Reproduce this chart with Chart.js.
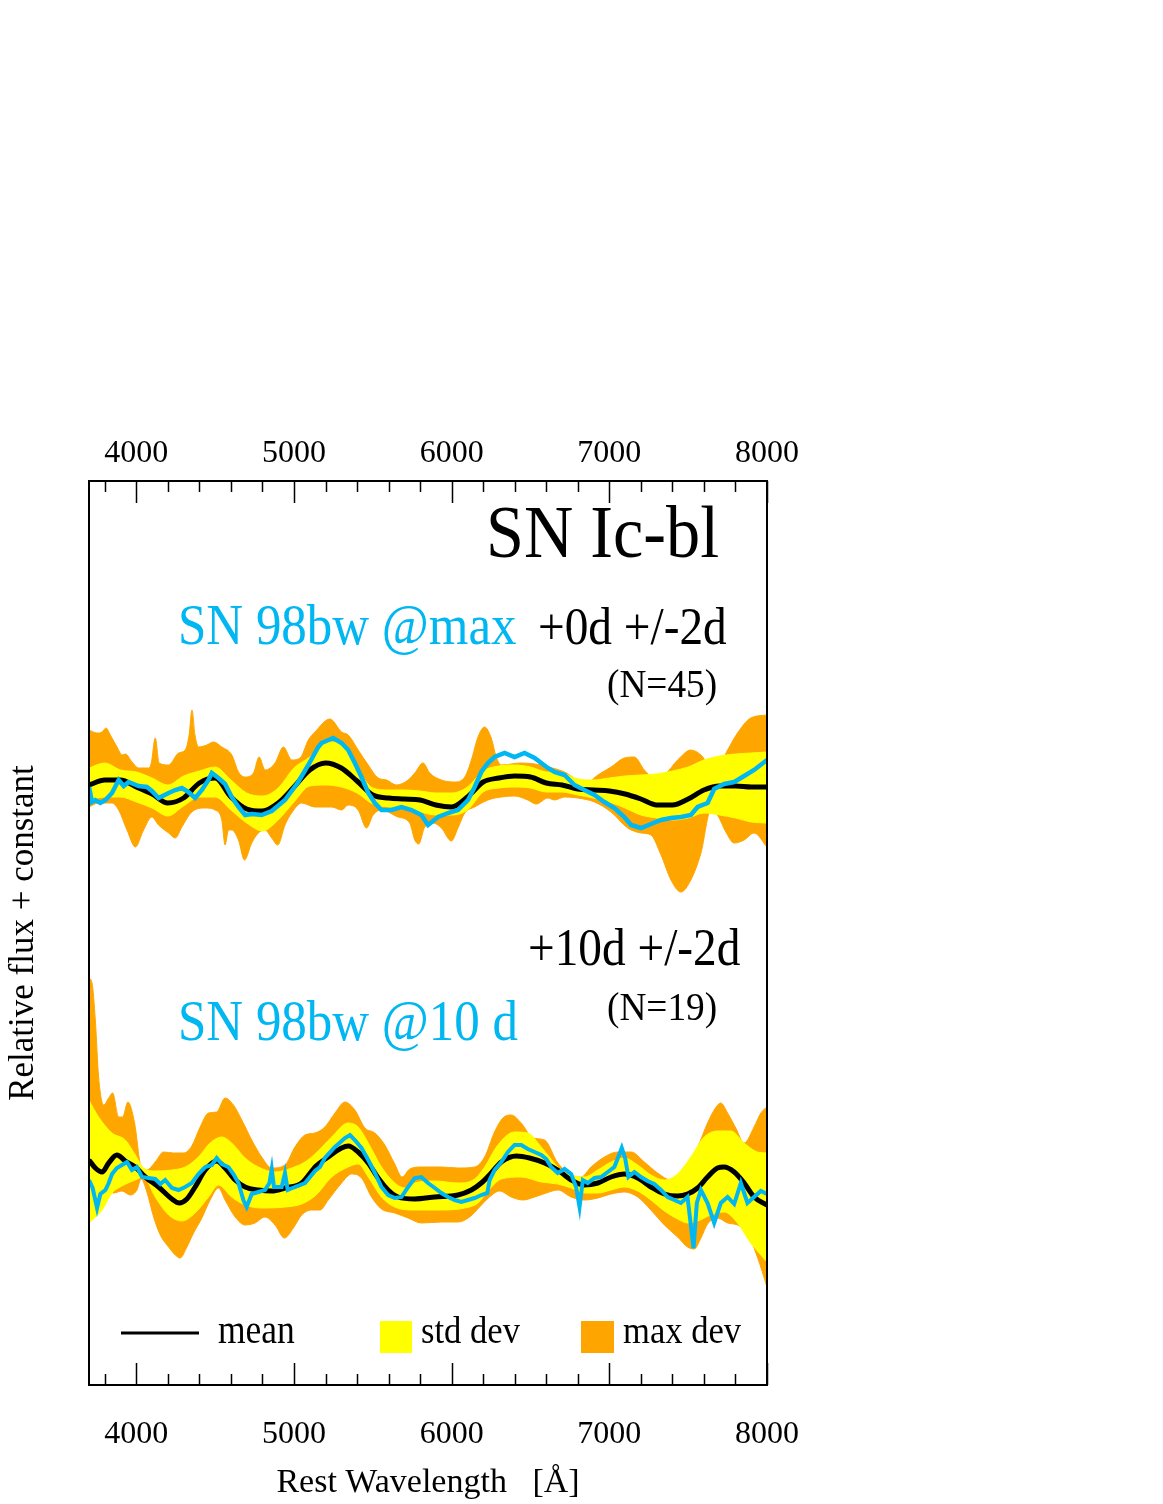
<!DOCTYPE html>
<html>
<head>
<meta charset="utf-8">
<title>SN Ic-bl template</title>
<script src="https://cdn.jsdelivr.net/npm/chart.js@4.4.0/dist/chart.umd.min.js"></script>
<style>
  html, body { margin: 0; padding: 0; background: #fff; }
  canvas { display: block; }
</style>
</head>
<body>
<canvas id="specChart" width="1163" height="1504"></canvas>
<script>
// wavelength range and axis ticks (Angstrom)
const waveMin = 3700;
const waveMax = 8000;
const tickLabels = [4000, 5000, 6000, 7000, 8000];
const minorTicks = [3800, 4200, 4400, 4600, 4800, 5200, 5400, 5600, 5800, 6200, 6400, 6600, 6800, 7200, 7400, 7600, 7800];

// ---- +0d epoch: [wavelength, relative flux + constant] ----
const topMean = [[3700,6.00],[3800,6.05],[3900,6.05],[4000,5.98],[4100,5.91],[4200,5.82],[4300,5.87],[4400,6.02],[4500,6.07],[4600,5.88],[4700,5.76],[4800,5.74],[4900,5.82],[5000,5.98],[5100,6.15],[5200,6.22],[5300,6.17],[5400,6.04],[5500,5.90],[5600,5.87],[5700,5.86],[5800,5.85],[5900,5.80],[6000,5.78],[6100,5.88],[6200,6.03],[6300,6.07],[6400,6.09],[6500,6.08],[6600,6.02],[6700,6.00],[6800,5.96],[6900,5.95],[7000,5.94],[7100,5.91],[7200,5.86],[7300,5.80],[7400,5.80],[7500,5.86],[7600,5.95],[7700,5.99],[7800,5.99],[7900,5.98],[8000,5.98]];

const topStdHi = [[3700,6.17],[3800,6.22],[3900,6.15],[4000,6.13],[4100,6.07],[4200,6.00],[4300,6.09],[4400,6.14],[4500,6.18],[4600,6.05],[4700,5.92],[4800,5.89],[4900,5.97],[5000,6.17],[5100,6.28],[5200,6.43],[5300,6.42],[5400,6.17],[5500,5.97],[5600,5.95],[5700,5.95],[5800,5.94],[5900,5.92],[6000,5.92],[6100,5.98],[6200,6.14],[6300,6.19],[6400,6.20],[6500,6.18],[6600,6.13],[6700,6.12],[6800,6.06],[6900,6.05],[7000,6.07],[7100,6.09],[7200,6.10],[7300,6.11],[7400,6.14],[7500,6.18],[7600,6.25],[7700,6.29],[7800,6.31],[7900,6.32],[8000,6.33]];

const topStdLo = [[3700,5.85],[3800,5.88],[3900,5.88],[4000,5.83],[4100,5.77],[4200,5.69],[4300,5.79],[4400,5.88],[4500,5.88],[4600,5.75],[4700,5.62],[4800,5.54],[4900,5.65],[5000,5.83],[5100,5.99],[5200,6.00],[5300,5.98],[5400,5.92],[5500,5.81],[5600,5.78],[5700,5.76],[5800,5.73],[5900,5.70],[6000,5.70],[6100,5.75],[6200,5.93],[6300,5.97],[6400,5.98],[6500,5.97],[6600,5.93],[6700,5.93],[6800,5.90],[6900,5.87],[7000,5.83],[7100,5.77],[7200,5.70],[7300,5.67],[7400,5.65],[7500,5.67],[7600,5.72],[7700,5.70],[7800,5.67],[7900,5.63],[8000,5.62]];

const topMaxHi = [[3700,6.55],[3750,6.52],[3783,6.53],[3808,6.57],[3835,6.50],[3878,6.38],[3910,6.30],[3931,6.31],[3973,6.23],[4015,6.17],[4078,6.17],[4095,6.22],[4120,6.47],[4145,6.22],[4205,6.20],[4268,6.32],[4310,6.35],[4335,6.50],[4353,6.75],[4372,6.50],[4395,6.38],[4447,6.40],[4490,6.43],[4542,6.38],[4606,6.30],[4648,6.13],[4690,6.08],[4743,6.12],[4779,6.28],[4817,6.15],[4880,6.22],[4933,6.38],[4986,6.25],[5039,6.27],[5091,6.45],[5133,6.53],[5228,6.66],[5302,6.53],[5344,6.50],[5407,6.35],[5471,6.20],[5534,6.07],[5587,6.05],[5650,6.00],[5724,6.05],[5766,6.12],[5819,6.22],[5861,6.12],[5935,6.05],[6019,6.03],[6083,6.08],[6125,6.25],[6167,6.48],[6209,6.58],[6251,6.47],[6283,6.28],[6315,6.20],[6441,6.22],[6568,6.20],[6640,6.17],[6716,6.13],[6800,6.05],[6863,6.03],[6927,6.10],[7011,6.18],[7095,6.27],[7159,6.28],[7222,6.15],[7285,6.07],[7349,6.10],[7433,6.25],[7517,6.35],[7581,6.30],[7644,6.18],[7686,6.17],[7750,6.35],[7813,6.52],[7897,6.67],[8000,6.70]];

const topMaxLo = [[3700,5.78],[3761,5.82],[3846,5.82],[3888,5.75],[3941,5.55],[3994,5.38],[4046,5.55],[4099,5.68],[4141,5.60],[4205,5.52],[4247,5.47],[4289,5.58],[4352,5.73],[4437,5.77],[4500,5.75],[4542,5.65],[4563,5.40],[4585,5.55],[4605,5.55],[4648,5.45],[4686,5.25],[4732,5.42],[4774,5.52],[4816,5.55],[4859,5.47],[4897,5.40],[4943,5.60],[4985,5.72],[5049,5.82],[5133,5.78],[5239,5.78],[5302,5.75],[5344,5.80],[5407,5.75],[5460,5.57],[5502,5.70],[5555,5.75],[5660,5.68],[5734,5.62],[5766,5.45],[5791,5.41],[5829,5.58],[5882,5.62],[5935,5.57],[5998,5.44],[6040,5.57],[6083,5.72],[6146,5.78],[6230,5.85],[6315,5.88],[6399,5.89],[6483,5.85],[6536,5.81],[6610,5.87],[6652,5.85],[6716,5.88],[6800,5.87],[6906,5.83],[7011,5.73],[7117,5.57],[7201,5.52],[7264,5.50],[7328,5.30],[7391,5.05],[7454,4.93],[7517,5.05],[7581,5.32],[7644,5.75],[7686,5.70],[7739,5.53],[7792,5.42],[7855,5.45],[7918,5.52],[8000,5.38]];

const topSN98bw = [[3700,5.98],[3719,5.83],[3740,5.85],[3772,5.82],[3804,5.85],[3846,5.92],[3888,6.05],[3920,5.99],[3951,6.03],[4015,5.99],[4067,5.98],[4099,5.94],[4141,5.87],[4205,5.92],[4247,5.95],[4289,5.97],[4331,5.93],[4373,5.87],[4416,5.95],[4458,6.05],[4479,6.12],[4521,6.07],[4563,6.01],[4605,5.88],[4648,5.78],[4690,5.70],[4732,5.71],[4795,5.70],[4859,5.74],[4943,5.85],[5027,6.03],[5091,6.20],[5154,6.38],[5175,6.42],[5249,6.47],[5302,6.42],[5344,6.35],[5386,6.22],[5428,6.08],[5471,5.92],[5513,5.82],[5555,5.75],[5618,5.75],[5682,5.78],[5745,5.75],[5808,5.70],[5850,5.60],[5914,5.68],[5977,5.72],[6040,5.75],[6104,5.85],[6146,5.98],[6188,6.13],[6230,6.22],[6272,6.28],[6336,6.32],[6399,6.28],[6462,6.32],[6526,6.27],[6610,6.17],[6652,6.13],[6716,6.10],[6779,6.00],[6842,5.95],[6906,5.90],[6969,5.83],[7032,5.77],[7095,5.68],[7138,5.60],[7201,5.57],[7264,5.61],[7328,5.65],[7391,5.67],[7454,5.68],[7517,5.70],[7560,5.78],[7623,5.82],[7665,5.96],[7728,6.01],[7792,6.03],[7855,6.09],[7918,6.15],[8000,6.25]];

// ---- +10d epoch ----
const botMean = [[3700,2.25],[3740,2.17],[3783,2.13],[3825,2.22],[3877,2.30],[3930,2.24],[3994,2.18],[4057,2.08],[4141,1.98],[4226,1.86],[4272,1.82],[4321,1.86],[4373,1.98],[4437,2.15],[4510,2.24],[4563,2.17],[4627,2.05],[4690,1.98],[4774,1.95],[4859,1.94],[4943,1.97],[5049,2.02],[5140,2.19],[5217,2.28],[5302,2.37],[5344,2.39],[5407,2.33],[5471,2.22],[5534,2.07],[5597,1.95],[5660,1.88],[5766,1.86],[5893,1.88],[6040,1.90],[6125,1.95],[6188,2.02],[6251,2.12],[6315,2.23],[6410,2.29],[6494,2.27],[6589,2.22],[6673,2.15],[6758,2.05],[6842,2.00],[6927,2.02],[7011,2.08],[7095,2.11],[7180,2.07],[7264,1.98],[7349,1.91],[7433,1.89],[7496,1.91],[7560,1.97],[7623,2.08],[7686,2.17],[7728,2.18],[7792,2.13],[7855,2.02],[7918,1.88],[8000,1.80]];

const botStdHi = [[3700,2.85],[3761,2.68],[3846,2.52],[3930,2.45],[3994,2.30],[4046,2.17],[4120,2.14],[4226,2.15],[4310,2.18],[4394,2.28],[4468,2.42],[4542,2.48],[4605,2.42],[4690,2.27],[4774,2.18],[4880,2.13],[4985,2.17],[5070,2.23],[5140,2.32],[5239,2.48],[5344,2.62],[5407,2.58],[5471,2.42],[5555,2.18],[5639,2.02],[5703,1.97],[5766,2.02],[5893,2.04],[6040,2.02],[6146,2.06],[6209,2.18],[6293,2.40],[6399,2.53],[6483,2.52],[6568,2.38],[6620,2.28],[6673,2.18],[6758,2.10],[6842,2.08],[6927,2.15],[7011,2.23],[7095,2.27],[7180,2.20],[7264,2.10],[7349,2.05],[7433,2.11],[7517,2.28],[7602,2.48],[7686,2.54],[7771,2.54],[7855,2.42],[7939,2.33],[8000,2.32]];

const botStdLo = [[3700,1.62],[3783,1.75],[3846,1.92],[3909,1.99],[3994,2.05],[4046,2.08],[4120,1.88],[4205,1.70],[4289,1.64],[4373,1.72],[4458,1.88],[4521,2.00],[4605,1.88],[4690,1.80],[4795,1.77],[4943,1.78],[5049,1.81],[5140,1.90],[5239,2.08],[5344,2.18],[5407,2.21],[5471,2.08],[5555,1.88],[5639,1.78],[5766,1.75],[5935,1.75],[6083,1.77],[6167,1.82],[6230,1.94],[6315,2.06],[6441,2.08],[6568,2.03],[6673,2.01],[6758,1.97],[6842,1.92],[6927,1.92],[7011,1.95],[7095,1.98],[7180,1.94],[7264,1.85],[7349,1.74],[7433,1.66],[7496,1.62],[7560,1.64],[7644,1.70],[7728,1.73],[7813,1.62],[7897,1.42],[8000,1.23]];

const botMaxHi = [[3700,4.07],[3719,4.02],[3740,3.65],[3761,3.08],[3793,2.80],[3825,2.87],[3850,2.92],[3888,2.68],[3913,2.68],[3947,2.83],[3989,2.62],[4031,2.18],[4067,2.15],[4120,2.23],[4173,2.33],[4236,2.32],[4299,2.32],[4352,2.39],[4405,2.58],[4458,2.72],[4510,2.73],[4563,2.87],[4616,2.80],[4669,2.65],[4732,2.45],[4795,2.28],[4859,2.17],[4943,2.20],[5006,2.38],[5070,2.50],[5133,2.52],[5196,2.58],[5260,2.72],[5323,2.83],[5386,2.75],[5450,2.57],[5513,2.52],[5576,2.40],[5639,2.21],[5686,2.08],[5734,2.16],[5808,2.18],[5935,2.18],[6040,2.17],[6146,2.18],[6209,2.28],[6272,2.53],[6325,2.67],[6378,2.70],[6441,2.62],[6515,2.47],[6589,2.45],[6673,2.22],[6758,2.10],[6821,2.08],[6884,2.18],[6969,2.28],[7053,2.33],[7138,2.33],[7222,2.23],[7306,2.12],[7391,2.05],[7475,2.15],[7560,2.38],[7623,2.62],[7665,2.75],[7707,2.82],[7750,2.72],[7802,2.57],[7855,2.42],[7918,2.58],[7961,2.72],[8000,2.78]];

const botMaxLo = [[3700,1.66],[3761,1.88],[3804,1.94],[3856,1.92],[3909,1.94],[3962,1.90],[4004,1.95],[4031,2.06],[4067,1.93],[4110,1.68],[4152,1.50],[4205,1.38],[4247,1.30],[4278,1.27],[4321,1.38],[4363,1.52],[4416,1.67],[4468,1.85],[4521,1.97],[4563,1.85],[4627,1.68],[4690,1.60],[4753,1.62],[4816,1.68],[4880,1.60],[4939,1.47],[4996,1.57],[5049,1.70],[5112,1.75],[5165,1.75],[5217,1.85],[5302,2.02],[5365,2.11],[5428,2.07],[5492,1.88],[5555,1.76],[5639,1.72],[5724,1.67],[5808,1.62],[5935,1.63],[6040,1.63],[6114,1.68],[6177,1.78],[6240,1.88],[6304,1.94],[6378,1.88],[6452,1.85],[6526,1.88],[6600,1.92],[6673,1.95],[6758,1.88],[6842,1.85],[6927,1.87],[7011,1.91],[7095,1.93],[7180,1.88],[7264,1.75],[7349,1.60],[7433,1.48],[7496,1.38],[7539,1.36],[7581,1.47],[7623,1.61],[7686,1.67],[7750,1.62],[7813,1.60],[7876,1.52],[7939,1.28],[8000,0.98]];

const botSN98bw = [[3700,2.05],[3723,1.97],[3751,1.77],[3772,1.91],[3804,1.95],[3825,2.02],[3846,2.11],[3877,2.17],[3909,2.20],[3941,2.23],[3972,2.15],[4004,2.18],[4036,2.08],[4078,2.07],[4120,2.06],[4152,2.01],[4183,2.05],[4226,1.97],[4268,1.95],[4310,1.98],[4352,2.02],[4394,2.11],[4437,2.18],[4479,2.20],[4510,2.27],[4542,2.21],[4584,2.18],[4616,2.11],[4648,2.02],[4679,1.85],[4700,1.78],[4732,1.91],[4774,1.93],[4816,1.95],[4844,2.02],[4859,2.16],[4873,1.98],[4922,1.98],[4943,2.12],[4960,1.95],[5006,1.98],[5070,2.02],[5133,2.14],[5165,2.18],[5196,2.27],[5260,2.38],[5323,2.47],[5355,2.50],[5386,2.45],[5428,2.37],[5471,2.25],[5513,2.12],[5555,1.98],[5597,1.90],[5639,1.87],[5682,1.88],[5724,1.98],[5766,2.07],[5808,2.08],[5850,2.02],[5893,1.97],[5935,1.92],[5977,1.88],[6019,1.85],[6061,1.83],[6104,1.85],[6146,1.87],[6188,1.90],[6226,1.92],[6241,2.05],[6272,2.15],[6315,2.23],[6357,2.33],[6399,2.40],[6441,2.40],[6483,2.36],[6526,2.33],[6568,2.30],[6600,2.26],[6631,2.18],[6673,2.12],[6716,2.16],[6758,2.11],[6789,1.98],[6811,1.78],[6832,2.05],[6863,2.02],[6906,2.07],[6948,2.08],[6990,2.13],[7032,2.18],[7079,2.37],[7100,2.27],[7121,2.08],[7159,2.13],[7201,2.08],[7243,2.04],[7285,2.01],[7328,1.95],[7370,1.88],[7412,1.85],[7454,1.82],[7496,1.88],[7534,1.37],[7555,1.82],[7581,1.95],[7623,1.82],[7665,1.62],[7707,1.82],[7750,1.88],[7792,1.81],[7834,2.02],[7876,1.82],[7918,1.88],[7961,1.94],[8000,1.91]];

const SERIF = '"Liberation Serif", "Times New Roman", serif';
const BLUE = '#00b7f1';
const YELLOW = '#ffff00';
const ORANGE = '#ffa500';

// the original figure's lettering is a little narrower than plain Times
function drawLabel(ctx, text, x, y, size, color) {
    ctx.save();
    ctx.translate(x, y);
    ctx.scale(0.91, 1);
    ctx.font = size + 'px ' + SERIF;
    ctx.fillStyle = color;
    ctx.textAlign = 'left';
    ctx.textBaseline = 'alphabetic';
    ctx.fillText(text, 0, 0);
    ctx.restore();
}

const framePlugin = {
    id: 'frame',
    afterDraw(chart) {
        const ctx = chart.ctx;
        const area = chart.chartArea;
        const xs = chart.scales.x;

        ctx.save();
        ctx.strokeStyle = '#000';
        ctx.lineWidth = 1.5;
        ctx.beginPath();
        const tick = (v, len) => {
            const px = Math.round(xs.getPixelForValue(v)) + 0.5;
            ctx.moveTo(px, area.bottom);
            ctx.lineTo(px, area.bottom - len);
            ctx.moveTo(px, area.top);
            ctx.lineTo(px, area.top + len);
        };
        minorTicks.forEach(v => tick(v, 11));
        tickLabels.forEach(v => tick(v, 22));
        ctx.stroke();

        ctx.lineWidth = 2;
        ctx.strokeRect(area.left, area.top, area.right - area.left, area.bottom - area.top);

        // panel annotations
        drawLabel(ctx, 'SN Ic-bl', 486, 557, 75, '#000');
        drawLabel(ctx, 'SN 98bw @max', 178, 644, 56, BLUE);
        drawLabel(ctx, '+0d +/-2d', 538, 644, 52, '#000');
        drawLabel(ctx, '(N=45)', 607, 697, 41, '#000');
        drawLabel(ctx, '+10d +/-2d', 528, 965, 52, '#000');
        drawLabel(ctx, '(N=19)', 607, 1020, 41, '#000');
        drawLabel(ctx, 'SN 98bw @10 d', 178, 1040, 56, BLUE);

        // legend
        ctx.strokeStyle = '#000';
        ctx.lineWidth = 3;
        ctx.beginPath();
        ctx.moveTo(121, 1333);
        ctx.lineTo(199, 1333);
        ctx.stroke();
        ctx.fillStyle = YELLOW;
        ctx.fillRect(380, 1321, 32, 32);
        ctx.fillStyle = ORANGE;
        ctx.fillRect(581, 1321, 33, 32);
        drawLabel(ctx, 'mean', 218, 1343, 39, '#000');
        drawLabel(ctx, 'std dev', 421, 1343, 38, '#000');
        drawLabel(ctx, 'max dev', 623, 1343, 38, '#000');
        ctx.restore();
    }
};

function bandEdge(data, color, fillTo) {
    return {
        data: data,
        borderColor: color,
        backgroundColor: color,
        borderWidth: 1,
        pointRadius: 0,
        cubicInterpolationMode: 'monotone',
        fill: fillTo === undefined ? false : fillTo
    };
}

const ctx = document.getElementById('specChart').getContext('2d');

new Chart(ctx, {
    type: 'line',
    data: {
        datasets: [
            { label: 'SN 98bw @max', data: topSN98bw, borderColor: BLUE, borderWidth: 4.5, pointRadius: 0, tension: 0, fill: false },
            { label: 'SN 98bw @10 d', data: botSN98bw, borderColor: BLUE, borderWidth: 4, pointRadius: 0, tension: 0, fill: false },
            { label: 'mean +0d', data: topMean, borderColor: '#000', borderWidth: 5, pointRadius: 0, cubicInterpolationMode: 'monotone', fill: false },
            { label: 'mean +10d', data: botMean, borderColor: '#000', borderWidth: 5, pointRadius: 0, cubicInterpolationMode: 'monotone', fill: false },
            bandEdge(topStdHi, YELLOW, 5),
            bandEdge(topStdLo, YELLOW),
            bandEdge(botStdHi, YELLOW, 7),
            bandEdge(botStdLo, YELLOW),
            bandEdge(topMaxHi, ORANGE, 9),
            bandEdge(topMaxLo, ORANGE),
            bandEdge(botMaxHi, ORANGE, 11),
            bandEdge(botMaxLo, ORANGE)
        ]
    },
    options: {
        responsive: false,
        animation: false,
        events: [],
        layout: { padding: { left: 0, top: 0, right: 396, bottom: 0 } },
        scales: {
            x: {
                type: 'linear',
                position: 'bottom',
                min: waveMin,
                max: waveMax,
                afterBuildTicks: (scale) => { scale.ticks = tickLabels.map(v => ({ value: v })); },
                afterFit: (scale) => { scale.height = 119; },
                grid: { display: false, drawTicks: false },
                border: { display: false },
                ticks: {
                    color: '#000',
                    padding: 30,
                    maxRotation: 0,
                    autoSkip: false,
                    font: { family: SERIF, size: 32 },
                    callback: (v) => String(v)
                },
                title: {
                    display: true,
                    text: 'Rest Wavelength   [Å]',
                    color: '#000',
                    font: { family: SERIF, size: 34 },
                    padding: { top: 0, bottom: 1 }
                }
            },
            xTop: {
                type: 'linear',
                position: 'top',
                min: waveMin,
                max: waveMax,
                afterBuildTicks: (scale) => { scale.ticks = tickLabels.map(v => ({ value: v })); },
                afterFit: (scale) => { scale.height = 481; },
                grid: { display: false, drawTicks: false },
                border: { display: false },
                ticks: {
                    color: '#000',
                    padding: 8,
                    maxRotation: 0,
                    autoSkip: false,
                    font: { family: SERIF, size: 32 },
                    callback: (v) => String(v)
                }
            },
            y: {
                type: 'linear',
                min: 0,
                max: 9.04,
                afterFit: (scale) => { scale.width = 89; },
                grid: { display: false, drawTicks: false },
                border: { display: false },
                ticks: { display: false },
                title: {
                    display: true,
                    text: 'Relative flux + constant',
                    color: '#000',
                    font: { family: SERIF, size: 35 },
                    padding: { top: 3, bottom: 0 }
                }
            }
        },
        plugins: {
            legend: { display: false },
            tooltip: { enabled: false }
        }
    },
    plugins: [framePlugin]
});
</script>
</body>
</html>
